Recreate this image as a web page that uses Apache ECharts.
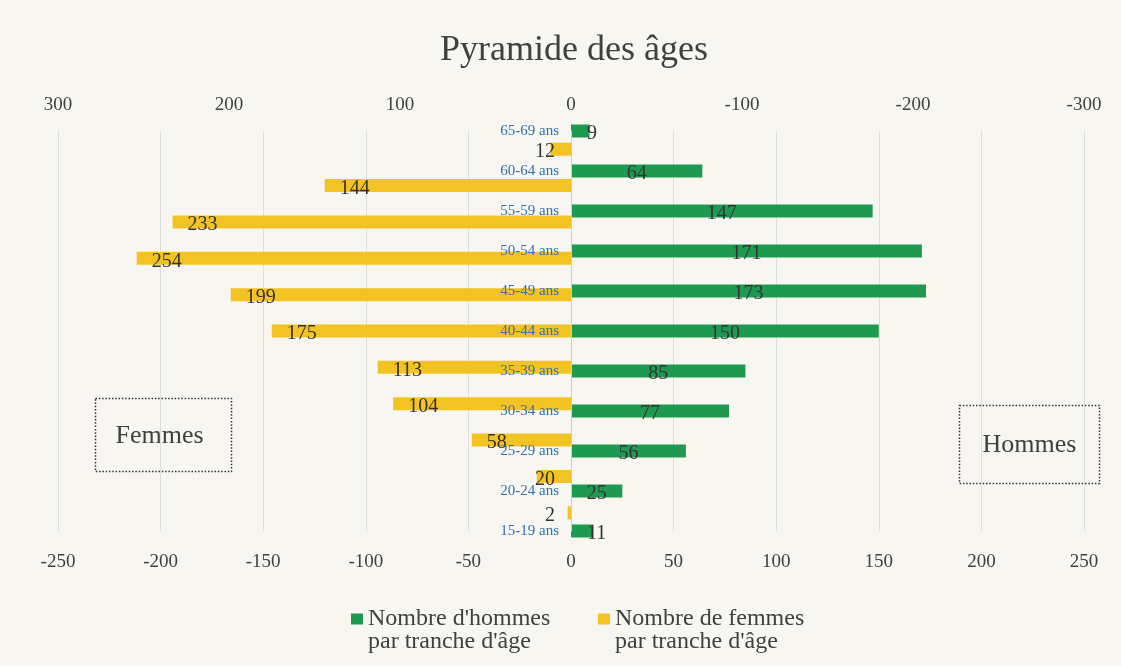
<!DOCTYPE html>
<html>
<head>
<meta charset="utf-8">
<script src="https://cdn.jsdelivr.net/npm/echarts@6/dist/echarts.min.js"></script>
<style>
  html, body { margin: 0; padding: 0; background: #f7f6f1; }
  #chart { width: 1121px; height: 666px; }
</style>
</head>
<body>
<div id="chart"></div>
<script>
let categories = ['65-69 ans', '60-64 ans', '55-59 ans', '50-54 ans', '45-49 ans', '40-44 ans',
  '35-39 ans', '30-34 ans', '25-29 ans', '20-24 ans', '15-19 ans'];
let hommes = [9, 64, 147, 171, 173, 150, 85, 77, 56, 25, 11];
let femmes = [12, 144, 233, 254, 199, 175, 113, 104, 58, 20, 2];
let nomHommes = "Nombre d'hommes par tranche d'âge";
let nomFemmes = "Nombre de femmes par tranche d'âge";

const serif = 'Liberation Serif';
const textColor = '#404040';

let dom = document.querySelector('#chart');
let myChart = echarts.init(dom);

// petits effectifs : l'étiquette sort de la barre
let dataHommes = hommes.map(function (v) {
  return v < 15 ? {value: v, label: {position: 'insideLeft', distance: 16}} : {value: v};
});
let dataFemmes = femmes.map(function (v) {
  return v < 40
    ? {value: v, label: {position: 'insideRight', distance: 16}}
    : {value: v, label: {position: 'insideLeft', distance: 15}};
});

// ligne vide en tête : la 1re ligne du texte se cale sur le carré de la légende
function legendText(name) {
  return ' \n' + name.replace(' par', '\npar');
}

function cadre(x, y, w, h, texte, dx) {
  return {
    type: 'group',
    left: x,
    top: y,
    children: [
      {
        type: 'rect',
        shape: {x: 0, y: 0, width: w, height: h},
        style: {fill: 'none', stroke: '#333', lineWidth: 1.5, lineDash: [1.5, 1.8]}
      },
      {
        type: 'text',
        x: w / 2 + dx,
        y: h / 2 + 1,
        style: {text: texte, font: '26px "Liberation Serif"', fill: textColor, align: 'center', verticalAlign: 'middle'}
      }
    ]
  };
}

let legendStyle = {
  orient: 'horizontal',
  top: 584,
  padding: 0,
  icon: 'rect',
  itemWidth: 12,
  itemHeight: 11,
  formatter: legendText,
  textStyle: {fontFamily: serif, fontSize: 24, lineHeight: 23, color: textColor}
};

let option = {
  backgroundColor: '#f7f6f1',
  animation: false,
  title: {
    text: 'Pyramide des âges',
    left: 435,
    top: 28,
    textStyle: {fontFamily: serif, fontSize: 36, fontWeight: 'normal', color: textColor}
  },
  legend: [
    Object.assign({}, legendStyle, {left: 351, data: [nomHommes]}),
    Object.assign({}, legendStyle, {left: 598, data: [nomFemmes]})
  ],
  grid: {left: 58, width: 1026, top: 131, height: 400, outerBoundsMode: 'none'},
  xAxis: [
    {
      type: 'value',
      position: 'bottom',
      min: -250,
      max: 250,
      interval: 50,
      axisLine: {show: false},
      axisTick: {show: false},
      splitLine: {show: true, lineStyle: {color: '#dcdcd8', width: 1}},
      axisLabel: {fontFamily: serif, fontSize: 19, color: textColor, margin: 22}
    },
    {
      type: 'value',
      position: 'top',
      inverse: true,
      min: -300,
      max: 300,
      interval: 100,
      axisLine: {show: false},
      axisTick: {show: false},
      splitLine: {show: false},
      axisLabel: {fontFamily: serif, fontSize: 19, color: textColor, margin: 16}
    }
  ],
  yAxis: [
    {
      // hommes : catégories sur les graduations
      type: 'category',
      position: 'left',
      offset: -513,
      z: 10,
      inverse: true,
      boundaryGap: false,
      data: categories,
      axisLine: {show: true, onZero: false, lineStyle: {color: '#cfcfcb'}},
      axisTick: {show: false},
      splitLine: {show: false},
      axisLabel: {fontFamily: serif, fontSize: 15, color: '#2e72b0', margin: 12}
    },
    {
      // femmes : catégories entre les graduations
      type: 'category',
      inverse: true,
      boundaryGap: true,
      data: categories,
      show: false
    }
  ],
  graphic: [
    cadre(93, 396, 136, 73, 'Femmes', -4),
    cadre(957, 403, 140, 78, 'Hommes', 0)
  ],
  series: [
    {
      name: nomHommes,
      type: 'bar',
      xAxisIndex: 0,
      yAxisIndex: 0,
      barWidth: 13,
      data: dataHommes,
      itemStyle: {color: '#1e9a50'},
      label: {show: true, position: 'inside', offset: [0, 3], fontFamily: serif, fontSize: 20, color: '#333'}
    },
    {
      name: nomFemmes,
      type: 'bar',
      xAxisIndex: 1,
      yAxisIndex: 1,
      barWidth: 13,
      data: dataFemmes,
      itemStyle: {color: '#f3c323'},
      label: {show: true, offset: [0, 3], fontFamily: serif, fontSize: 20, color: '#333'}
    }
  ]
};

myChart.setOption(option);
</script>
</body>
</html>
